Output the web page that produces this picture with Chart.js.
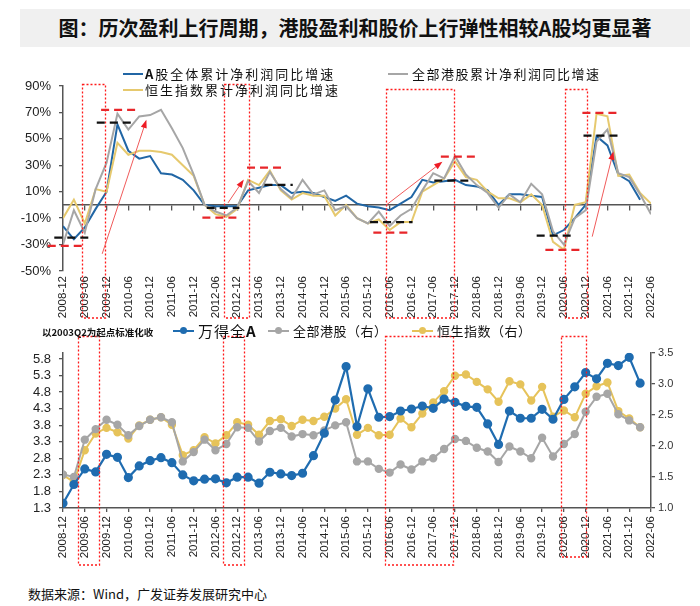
<!DOCTYPE html>
<html>
<head>
<meta charset="utf-8">
<script src="https://cdn.jsdelivr.net/npm/chart.js@4.4.0/dist/chart.umd.min.js"></script>
<style>
  body { margin: 0; width: 700px; height: 606px; position: relative; overflow: hidden; background: #fff;
         font-family: "Noto Sans CJK SC", "Liberation Sans", sans-serif; color: #111; }
  .title { position: absolute; left: 20px; top: 9px; width: 670px; height: 38px; background: #f0f0f0;
           font-size: 20px; font-weight: bold; line-height: 38px; text-align: center; }
  .wrap { position: absolute; left: 0; width: 700px; }
  .leg { position: absolute; white-space: nowrap; font-size: 13px; line-height: 16px; }
  .sw { position: absolute; height: 2px; }
  .dot { position: absolute; width: 7px; height: 7px; border-radius: 50%; }
  .src { position: absolute; left: 28px; top: 584px; font-size: 13px; }
</style>
</head>
<body>
<div class="title">图：历次盈利上行周期，港股盈利和股价上行弹性相较A股均更显著</div>

<div class="wrap" style="top:55px;height:270px"><canvas id="topChart" width="700" height="270"></canvas></div>
<div class="wrap" style="top:330px;height:250px"><canvas id="bottomChart" width="700" height="250"></canvas></div>

<!-- top legend -->
<div class="sw" style="left:123px;top:73px;width:20px;background:#2166a5"></div>
<div class="leg" style="left:145px;top:66px;letter-spacing:2px"><b>A</b>股全体累计净利润同比增速</div>
<div class="sw" style="left:123px;top:89px;width:20px;background:#e6c96e"></div>
<div class="leg" style="left:145px;top:82px;letter-spacing:2px">恒生指数累计净利润同比增速</div>
<div class="sw" style="left:388px;top:73px;width:20px;background:#a6a6a6"></div>
<div class="leg" style="left:412px;top:66px;letter-spacing:1.5px">全部港股累计净利润同比增速</div>

<!-- bottom legend -->
<div class="leg" style="left:42px;top:324px;font-size:9.5px;font-weight:bold">以2003Q2为起点标准化收</div>
<div class="sw" style="left:173px;top:330px;width:21px;background:#1f6cb0"></div>
<div class="dot" style="left:180px;top:327px;background:#1f6cb0"></div>
<div class="leg" style="left:198px;top:322px;font-size:15px;line-height:18px;letter-spacing:1px">万得全<b>A</b></div>
<div class="sw" style="left:268px;top:330px;width:21px;background:#a6a6a6"></div>
<div class="dot" style="left:275px;top:327px;background:#a6a6a6"></div>
<div class="leg" style="left:293px;top:323px;letter-spacing:0.5px">全部港股（右）</div>
<div class="sw" style="left:412px;top:330px;width:21px;background:#e6c35a"></div>
<div class="dot" style="left:419px;top:327px;background:#e6c35a"></div>
<div class="leg" style="left:437px;top:323px;letter-spacing:0.5px">恒生指数（右）</div>

<div class="src">数据来源：Wind，广发证券发展研究中心</div>

<script>
// 半年度刻度标签
const halfYears = ['2008-12','2009-06','2009-12','2010-06','2010-12','2011-06','2011-12','2012-06','2012-12',
  '2013-06','2013-12','2014-06','2014-12','2015-06','2015-12','2016-06','2016-12','2017-06','2017-12',
  '2018-06','2018-12','2019-06','2019-12','2020-06','2020-12','2021-06','2021-12','2022-06'];

// 上图：累计净利润同比增速（%），季度，2008-12 起
const aShareProfit = [-16,-26,-17,-3,10,61,41,35,37,24, 23,19,11,0,-1,-1,-1,11,13,15,
  15,9,10,9,6,3,7,1,-1,-2, -4,1,6,19,17,18,19,15,14,11, 0,8,8,7,6,-23,-19,-10,0,52, 45,23,18,4,null];
const hkAllProfit = [-30,-4,-21,12,32,69,57,67,68,72, 58,43,23,0,-5,-8,-2,18,9,25,
  12,5,19,8,11,-4,-1,-10,-14,-5, -16,-8,-3,11,24,20,37,23,15,9, -2,8,2,16,8,-20,-30,-10,-4,48, 57,24,21,8,-7];
const hsiProfit = [-10,4,-14,12,10,47,38,41,41,40, 38,30,22,0,-7,-9,-3,19,15,26,
  11,4,9,7,7,-8,0,-10,-14,-11, -19,-13,-13,10,15,20,33,21,19,10, 5,5,2,8,0,-28,-34,0,2,69, 67,22,23,9,1];

// 下图：以2003Q2为起点标准化，季度，2008-12 起
const windA = [1.44,2.01,2.48,2.39,2.92,2.83,2.22,2.57,2.73,2.82, 2.67,2.30,2.12,2.17,2.18,2.06,2.23,2.23,2.05,2.38,
  2.33,2.28,2.35,2.88,3.56,4.56,5.57,3.76,4.90,4.04, 4.06,4.23,4.29,4.38,4.31,4.59,4.49,4.37,4.34,3.84,
  3.22,4.23,4.01,4.01,4.28,3.98,4.58,4.96,5.39,5.20, 5.67,5.60,5.85,5.07];
const hkAll = [1.54,1.50,2.10,2.27,2.42,2.34,2.17,2.32,2.42,2.46, 2.38,1.75,1.90,2.10,1.93,2.03,2.30,2.29,2.07,2.24,
  2.29,2.15,2.19,2.17,2.25,2.33,2.38,1.75,1.75,1.63, 1.57,1.70,1.62,1.75,1.80,1.95,2.11,2.08,1.97,1.91,
  1.74,1.99,1.91,1.80,2.13,1.83,2.03,2.19,2.55,2.79, 2.84,2.51,2.41,2.30];
const hsi = [1.53,1.42,1.93,2.20,2.29,2.22,2.12,2.33,2.42,2.46, 2.34,1.85,1.93,2.14,2.04,2.17,2.38,2.34,2.18,2.40,
  2.43,2.32,2.42,2.40,2.47,2.60,2.75,2.18,2.29,2.17, 2.18,2.44,2.30,2.52,2.70,2.88,3.13,3.15,3.03,2.91,
  2.71,3.04,2.99,2.73,2.95,2.47,2.57,2.46,2.84,2.96, 3.02,2.56,2.44,2.30];

const leftTicksBottom = [1.3,1.8,2.3,2.8,3.3,3.8,4.3,4.8,5.3,5.8];

// 标注：红框 [起始季度, 结束季度, 顶部]，横向虚线 [起, 止, 值, 颜色]，箭头 [起, 值, 止, 值]
const topBoxes = [[1.75, 3.85, 91.5], [14.8, 17.1, 91.5], [29.7, 35.9, 88], [46.1, 48.1, 88]];
const bottomBoxes = [[1.4, 3.3, 57], [14.7, 16.6, 57], [29.6, 35.8, 57], [45.7, 48.0, 49]];
const levelMarks = [
  [-0.8, 2.6, -24.8, '#111'], [-1.4, 2.0, -31, '#e8262a'],
  [3.1, 6.6, 62.3, '#111'], [3.5, 6.9, 72, '#e8262a'],
  [13.2, 16.2, -2.3, '#111'], [12.8, 16.0, -9.6, '#e8262a'],
  [16.9, 20.2, 28.3, '#e8262a'], [18.5, 21.1, 15.2, '#111'],
  [28.2, 32.1, -13, '#111'], [28.5, 31.9, -21, '#e8262a'],
  [34.7, 38.0, 36.6, '#e8262a'], [34.1, 37.4, 18.4, '#111'],
  [43.5, 46.8, -23.2, '#111'], [44.3, 47.8, -34, '#e8262a'],
  [47.7, 51.1, 69.7, '#e8262a'], [47.8, 51.3, 52.5, '#111']
];
const arrows = [[3.6, -37, 7.6, 63], [15.15, 1.5, 16.5, 18], [29.7, 0, 34.7, 31.8], [48.6, -24, 50.5, 39]];

const xy = arr => arr.map((v, i) => ({ x: i, y: v }));
const tickFont = { family: '"Liberation Sans", Arial, sans-serif' };

function drawBoxes(chart, boxes, topPx, bottomOffset) {
  const { ctx, scales: { x }, chartArea } = chart;
  ctx.save();
  ctx.strokeStyle = '#ff1a1a';
  ctx.lineWidth = 1.3;
  ctx.setLineDash([2, 2]);
  boxes.forEach(b => {
    const x1 = Math.round(x.getPixelForValue(b[0])) + 0.5;
    const x2 = Math.round(x.getPixelForValue(b[1])) + 0.5;
    const top = topPx(b);
    const bottom = chartArea.bottom + bottomOffset(b);
    ctx.strokeRect(x1, top, x2 - x1, bottom - top);
  });
  ctx.restore();
}

const topAnnot = {
  id: 'topAnnot',
  afterDatasetsDraw(chart) {
    const { ctx, scales: { x, y } } = chart;
    drawBoxes(chart, topBoxes, b => Math.round(y.getPixelForValue(b[2])) + 0.5, () => 47);
    ctx.save();
    ctx.lineWidth = 2.2;
    ctx.setLineDash([8, 5]);
    levelMarks.forEach(m => {
      ctx.strokeStyle = m[3];
      const py = y.getPixelForValue(m[2]);
      ctx.beginPath();
      ctx.moveTo(x.getPixelForValue(m[0]), py);
      ctx.lineTo(x.getPixelForValue(m[1]), py);
      ctx.stroke();
    });
    ctx.setLineDash([]);
    ctx.strokeStyle = '#f05a5a';
    ctx.fillStyle = '#ee1c25';
    ctx.lineWidth = 1;
    arrows.forEach(a => {
      const x1 = x.getPixelForValue(a[0]), y1 = y.getPixelForValue(a[1]);
      const x2 = x.getPixelForValue(a[2]), y2 = y.getPixelForValue(a[3]);
      const ang = Math.atan2(y2 - y1, x2 - x1);
      ctx.beginPath();
      ctx.moveTo(x1, y1);
      ctx.lineTo(x2, y2);
      ctx.stroke();
      ctx.beginPath();
      ctx.moveTo(x2 + 2 * Math.cos(ang), y2 + 2 * Math.sin(ang));
      ctx.lineTo(x2 - 7 * Math.cos(ang - 0.45), y2 - 7 * Math.sin(ang - 0.45));
      ctx.lineTo(x2 - 7 * Math.cos(ang + 0.45), y2 - 7 * Math.sin(ang + 0.45));
      ctx.closePath();
      ctx.fill();
    });
    ctx.restore();
  }
};

const bottomAnnot = {
  id: 'bottomAnnot',
  afterDatasetsDraw(chart) {
    drawBoxes(chart, bottomBoxes, () => 6.5, b => b[2]);
  }
};

const lineDs = (label, data, color, extra) => Object.assign({
  label, data: xy(data), borderColor: color, backgroundColor: color,
  borderWidth: 2, pointRadius: 0, tension: 0, spanGaps: false
}, extra || {});

new Chart(document.getElementById('topChart'), {
  type: 'line',
  data: {
    datasets: [
      lineDs('全部港股累计净利润同比增速', hkAllProfit, '#a6a6a6'),
      lineDs('恒生指数累计净利润同比增速', hsiProfit, '#e6c96e'),
      lineDs('A股全体累计净利润同比增速', aShareProfit, '#2166a5')
    ]
  },
  options: {
    responsive: false,
    animation: false,
    layout: { padding: { top: 31, right: 49, left: 0, bottom: 0 } },
    plugins: { legend: { display: false }, tooltip: { enabled: false } },
    scales: {
      x: {
        type: 'linear', min: 0, max: 54,
        position: { y: 0 },
        afterFit: s => { s.height = 0; },
        ticks: { display: false, stepSize: 2 },
        grid: { drawOnChartArea: false, drawTicks: true, tickLength: 5, color: '#555', lineWidth: 1.3 },
        border: { display: true, color: '#555', width: 1.5 }
      },
      x2: {
        type: 'linear', min: 0, max: 54, position: 'bottom',
        afterFit: s => { s.height = 54; },
        ticks: {
          stepSize: 2, autoSkip: false, maxRotation: 90, minRotation: 90, padding: 5,
          color: '#222', font: Object.assign({ size: 11.5 }, tickFont),
          callback: v => halfYears[v / 2]
        },
        grid: { display: false, drawTicks: false },
        border: { display: false }
      },
      y: {
        min: -50, max: 90,
        afterFit: s => { s.width = 63; },
        ticks: { stepSize: 20, autoSkip: false, padding: 8, color: '#222', font: Object.assign({ size: 13 }, tickFont), callback: v => v + '%' },
        grid: { drawOnChartArea: false, drawTicks: true, tickLength: 4, color: '#555', lineWidth: 1.3 },
        border: { display: true, color: '#555', width: 1.5 }
      }
    }
  },
  plugins: [topAnnot]
});

new Chart(document.getElementById('bottomChart'), {
  type: 'line',
  data: {
    datasets: [
      lineDs('万得全A', windA, '#1f6cb0', { yAxisID: 'y', pointRadius: 3.5, borderWidth: 2.2 }),
      lineDs('全部港股（右）', hkAll, '#a6a6a6', { yAxisID: 'y1', pointRadius: 3.2 }),
      lineDs('恒生指数（右）', hsi, '#e6c35a', { yAxisID: 'y1', pointRadius: 3.2 })
    ]
  },
  options: {
    responsive: false,
    animation: false,
    layout: { padding: { top: 22.7, right: 0, left: 0, bottom: 0 } },
    plugins: { legend: { display: false }, tooltip: { enabled: false } },
    scales: {
      x: {
        type: 'linear', min: 0, max: 54, position: 'bottom',
        afterFit: s => { s.height = 72; },
        ticks: {
          stepSize: 2, autoSkip: false, maxRotation: 90, minRotation: 90, padding: 4,
          color: '#222', font: Object.assign({ size: 11.5 }, tickFont),
          callback: v => halfYears[v / 2]
        },
        grid: { drawOnChartArea: false, drawTicks: true, tickLength: 4, color: '#555', lineWidth: 1.3 },
        border: { display: true, color: '#555', width: 1.5 }
      },
      y: {
        min: 1.3, max: 5.99, position: 'left',
        afterFit: s => { s.width = 63; },
        afterBuildTicks: s => { s.ticks = leftTicksBottom.map(v => ({ value: v })); },
        ticks: { autoSkip: false, padding: 8, color: '#222', font: Object.assign({ size: 13 }, tickFont), callback: v => v.toFixed(1) },
        grid: { drawOnChartArea: false, drawTicks: true, tickLength: 4, color: '#555', lineWidth: 1.3 },
        border: { display: true, color: '#555', width: 1.5 }
      },
      y1: {
        min: 1.0, max: 3.5, position: 'right',
        afterFit: s => { s.width = 49; },
        ticks: { stepSize: 0.5, autoSkip: false, padding: 3, color: '#333', font: Object.assign({ size: 11 }, tickFont), callback: v => v.toFixed(1) },
        grid: { drawOnChartArea: false, drawTicks: true, tickLength: 4, color: '#555', lineWidth: 1.3 },
        border: { display: true, color: '#555', width: 1.5 }
      }
    }
  },
  plugins: [bottomAnnot]
});
</script>
</body>
</html>
